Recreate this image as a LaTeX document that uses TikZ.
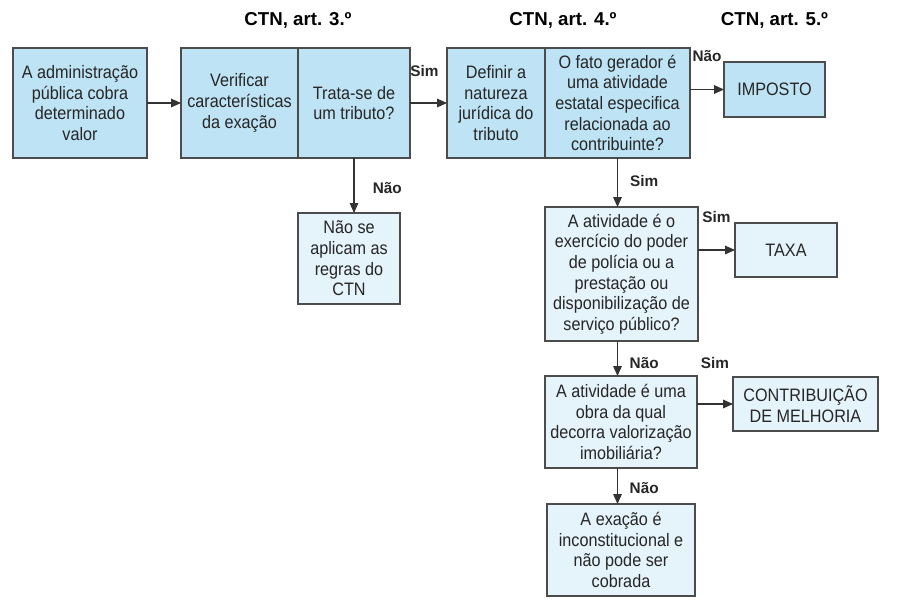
\documentclass[tikz,border=0pt]{standalone}
\usepackage{fontspec}
\setmainfont{Liberation Sans}
\newfontfamily\bodyfont[FakeStretch=0.9]{Liberation Sans}
\usetikzlibrary{arrows.meta, positioning}
\definecolor{boxdark}{RGB}{190,227,244}
\definecolor{boxlight}{RGB}{229,243,251}
\tikzset{
    flowbox/.style={rectangle, draw=black!70, line width=0.8pt, outer sep=0pt, inner sep=1pt, align=center, text=black!85, font=\bodyfont\fontsize{13.5}{15.5}\selectfont},
    darkbox/.style={flowbox, fill=boxdark},
    lightbox/.style={flowbox, fill=boxlight},
    arrow/.style={-{Triangle[length=7.5pt,width=6.5pt]}, line width=0.8pt, black!80},
}

\begin{document}
\begin{tikzpicture}[
  header/.style={font=\fontsize{14}{16}\selectfont\bfseries},
  answer/.style={font=\fontsize{11.5}{13}\selectfont\bfseries,text=black!85,inner sep=0pt}
]
\useasboundingbox (0,0) rectangle (673.5pt,-457.5pt);
\node[darkbox,minimum width=100.5pt,minimum height=82.5pt,anchor=north west] (admin) at (9.75pt,-36pt) {A administração\\pública cobra\\determinado\\valor};
\node[darkbox,minimum width=87.75pt,minimum height=82.5pt,right=25.5pt of admin] (verif) {Verificar\\características\\da exação};
\node[darkbox,minimum width=84pt,minimum height=82.5pt,right=0pt of verif] (trata) {Trata-se de\\um tributo?};
\node[darkbox,minimum width=73.5pt,minimum height=82.5pt,right=27.75pt of trata] (definir) {Definir a\\natureza\\jurídica do\\tributo};
\node[darkbox,minimum width=108.75pt,minimum height=82.5pt,right=0pt of definir] (fato) {O fato gerador é\\uma atividade\\estatal especifica\\relacionada ao\\contribuinte?};
\node[darkbox,minimum width=75.75pt,minimum height=41.25pt,right=25.5pt of fato.north east,anchor=north west,yshift=-10.5pt] (imposto) {IMPOSTO};
\node[lightbox,minimum width=76.5pt,minimum height=68.25pt,below=41.25pt of trata.south west,anchor=north west] (naose) {Não se\\aplicam as\\regras do\\CTN};
\node[lightbox,minimum width=114.75pt,minimum height=100.5pt,below=36.75pt of fato.south west,anchor=north west] (poder) {A atividade é o\\exercício do poder\\de polícia ou a\\prestação ou\\disponibilização de\\serviço público?};
\node[lightbox,minimum width=76.5pt,minimum height=40.5pt,right=27.75pt of poder.north east,anchor=north west,yshift=-12pt] (taxa) {TAXA};
\node[lightbox,minimum width=114pt,minimum height=69pt,below=26.25pt of poder.south west,anchor=north west] (obra) {A atividade é uma\\obra da qual\\decorra valorização\\imobiliária?};
\node[lightbox,minimum width=108.75pt,minimum height=40.5pt,right=27pt of obra.north east,anchor=north west,yshift=-0.75pt] (contrib) {CONTRIBUIÇÃO\\DE MELHORIA};
\node[lightbox,minimum width=111pt,minimum height=69pt,below=27pt of obra.south west,anchor=north west,xshift=1.5pt] (exacao) {A exação é\\inconstitucional e\\não pode ser\\cobrada};
\node[header] (art3) at ([yshift=21pt]verif.north east) {CTN, art. 3.º};
\node[header] (art4) at ([xshift=13.5pt,yshift=21pt]fato.north west) {CTN, art. 4.º};
\node[header] (art5) at (imposto |- art4) {CTN, art. 5.º};

\draw[arrow] (admin) -- (verif);
\draw[arrow] (trata) -- node[answer,xshift=-3pt,yshift=24pt] (sim1) {Sim} (definir);
\draw[arrow] (trata.south) -- node[answer,xshift=25pt,yshift=-2pt] (nao1) {Não} (trata.south |- naose.north);
\draw[arrow] (fato.east |- imposto) -- node[answer,yshift=25pt] (nao2) {Não} (imposto);
\draw[arrow] (fato.south) -- node[answer,xshift=20pt,yshift=1pt] (sim2) {Sim} (fato.south |- poder.north);
\draw[arrow] (poder.east |- taxa) -- node[answer,yshift=25pt] (sim3) {Sim} (taxa);
\draw[arrow] (fato.south |- poder.south) -- node[answer,xshift=20pt,yshift=-3.5pt] (nao3) {Não} (fato.south |- obra.north);
\draw[arrow] (obra.east |- contrib) -- node[answer,yshift=31pt] (sim4) {Sim} (contrib);
\draw[arrow] (fato.south |- obra.south) -- node[answer,xshift=20pt,yshift=-1.5pt] (nao4) {Não} (fato.south |- exacao.north);
\end{tikzpicture}
\end{document}
